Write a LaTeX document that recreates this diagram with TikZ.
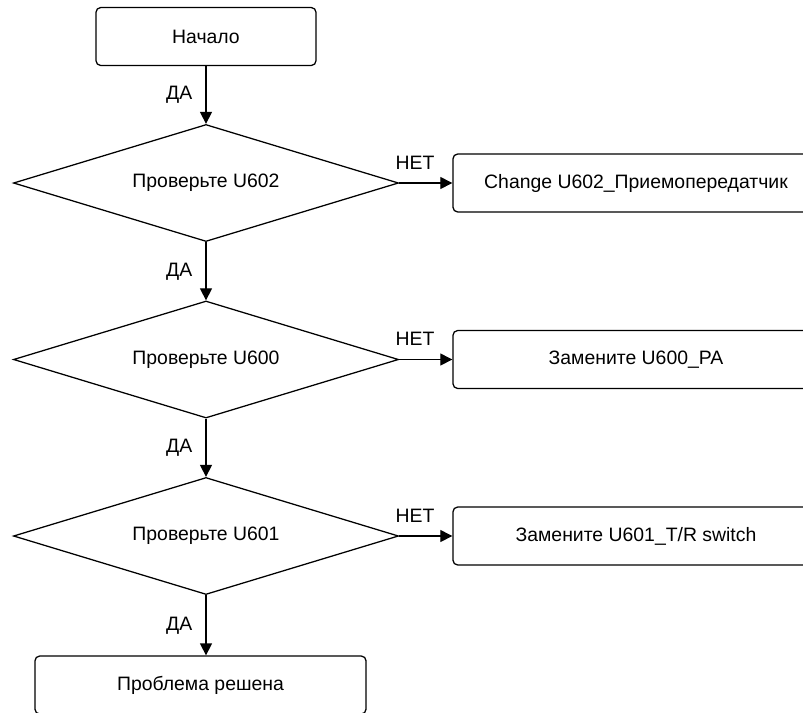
\documentclass[tikz,border=0pt]{standalone}
\usepackage{fontspec}
\setmainfont{Liberation Sans}
\usetikzlibrary{shapes.geometric,arrows.meta}
\begin{document}
\begin{tikzpicture}[x=0.025cm,y=-0.025cm,line width=0.9pt,
		font=\fontsize{13.8}{16}\selectfont,
		stepbox/.style={draw,rectangle,rounded corners=0.12cm,minimum height=1.45cm},
		check/.style={draw,diamond,shape aspect=3.3,minimum width=9.625cm,minimum height=2.925cm,inner sep=0pt},
		arrow/.style={-{Triangle[length=0.3cm,width=0.3cm]}},
		yes/.style={left=6pt,pos=0.5},
		no/.style={above=6pt,pos=0.3}]
			\useasboundingbox (0,0) rectangle (803,712);
			\node[stepbox,minimum width=5.5cm] (start) at (206,36.5) {Начало};
			\node[check] (chk602) at (206,183) {Проверьте U602};
			\node[check] (chk600) at (206,359.5) {Проверьте U600};
			\node[check] (chk601) at (206,536) {Проверьте U601};
			\node[stepbox,minimum width=9.15cm] (new602) at (636,183) {Change U602\_Приемопередатчик};
			\node[stepbox,minimum width=9.15cm] (new600) at (636,359.5) {Замените U600\_PA};
			\node[stepbox,minimum width=9.15cm] (new601) at (636,536) {Замените U601\_T/R switch};
			\node[stepbox,minimum width=8.275cm] (done) at (200.5,685) {Проблема решена};
			\draw[arrow] (start) -- node[yes] {ДА} (chk602);
			\draw[arrow] (chk602) -- node[yes] {ДА} (chk600);
			\draw[arrow] (chk600) -- node[yes] {ДА} (chk601);
			\draw[arrow] (chk601.south) -- node[yes] {ДА} (chk601.south |- done.north);
			\draw[arrow] (chk602.east) -- node[no] {НЕТ} (new602.west);
			\draw[arrow] (chk600.east) -- node[no] {НЕТ} (new600.west);
			\draw[arrow] (chk601.east) -- node[no] {НЕТ} (new601.west);
		\end{tikzpicture}
\end{document}
